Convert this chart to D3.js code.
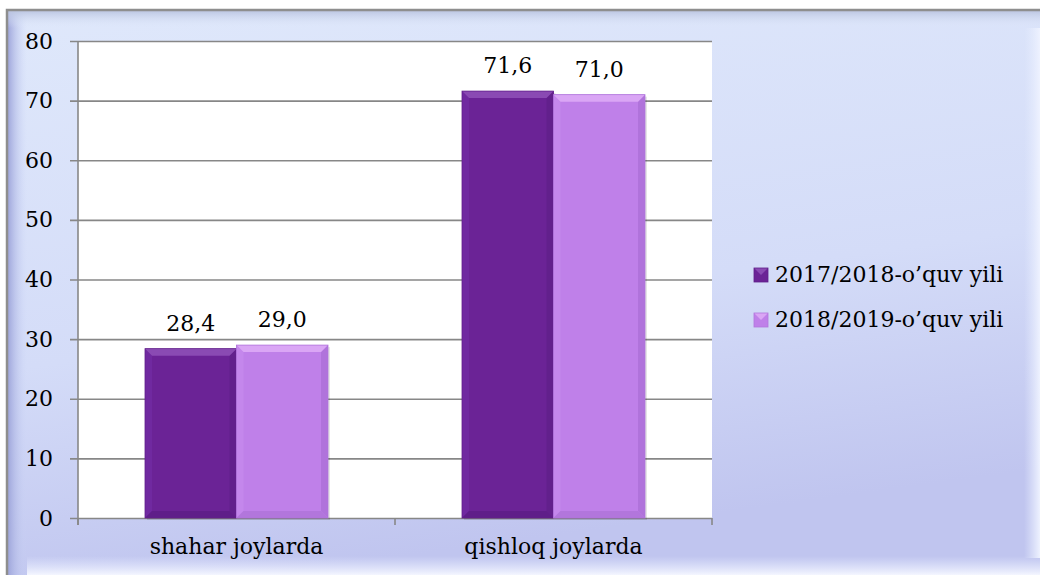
<!DOCTYPE html>
<meta charset="utf-8">
<html>
<script src="https://d3js.org/d3.v7.min.js"></script>
<style>
  body { margin: 0; background: #fff; }
</style>
<body>
<div id="chart"></div>
<script>

// chart values
var categories = ["shahar joylarda", "qishloq joylarda"];
var seriesNames = ["2017/2018-o\u2019quv yili", "2018/2019-o\u2019quv yili"];
var series1 = [28.4, 71.6];
var series2 = [29.0, 71.0];
var yTicks = [0, 10, 20, 30, 40, 50, 60, 70, 80];

var width = 1040,
    height = 575;

var plot = {left: 78, top: 41, right: 712, bottom: 518};
var font = "DejaVu Serif";

var colors = [
  {main: "#6b2396", top: "#8a4ab3", left: "#7029a0", right: "#62208c", bottom: "#5f1e89"},
  {main: "#bf80e9", top: "#daa6f5", left: "#c487ec", right: "#b073db", bottom: "#b276dc"}
];

var svg = d3.select("#chart")
  .append("svg")
    .attr("width", width)
    .attr("height", height);

var defs = svg.append("defs");

// background gradients
var bg = defs.append("linearGradient").attr("id", "bg")
  .attr("x1", "0").attr("y1", "0").attr("x2", "0.25").attr("y2", "1");
bg.append("stop").attr("offset", "0").attr("stop-color", "#dfe8fb");
bg.append("stop").attr("offset", "0.6").attr("stop-color", "#d4dcf8");
bg.append("stop").attr("offset", "1").attr("stop-color", "#c0c5ef");

var leftG = defs.append("linearGradient").attr("id", "leftEdge")
  .attr("x1", "0").attr("y1", "0").attr("x2", "1").attr("y2", "0");
leftG.append("stop").attr("offset", "0").attr("stop-color", "#9aa1d8");
leftG.append("stop").attr("offset", "1").attr("stop-color", "#cdd6f6").attr("stop-opacity", 0);

var topG = defs.append("linearGradient").attr("id", "topEdge")
  .attr("x1", "0").attr("y1", "0").attr("x2", "0").attr("y2", "1");
topG.append("stop").attr("offset", "0").attr("stop-color", "#b9c3df");
topG.append("stop").attr("offset", "1").attr("stop-color", "#dfe8fb").attr("stop-opacity", 0);

var botG = defs.append("linearGradient").attr("id", "botEdge")
  .attr("x1", "0").attr("y1", "0").attr("x2", "0").attr("y2", "1");
botG.append("stop").attr("offset", "0").attr("stop-color", "#e6ebff").attr("stop-opacity", 0);
botG.append("stop").attr("offset", "1").attr("stop-color", "#f4f6ff");

var rightG = defs.append("linearGradient").attr("id", "rightEdge")
  .attr("x1", "0").attr("y1", "0").attr("x2", "1").attr("y2", "0");
rightG.append("stop").attr("offset", "0").attr("stop-color", "#e4ebfd").attr("stop-opacity", 0);
rightG.append("stop").attr("offset", "1").attr("stop-color", "#eef2ff");

// frame
svg.append("rect").attr("x", 7).attr("y", 10).attr("width", width - 7).attr("height", height - 10)
  .attr("fill", "url(#bg)");
svg.append("rect").attr("x", 7).attr("y", 10).attr("width", 20).attr("height", height - 10)
  .attr("fill", "url(#leftEdge)");
svg.append("rect").attr("x", 7).attr("y", 10).attr("width", width - 7).attr("height", 18)
  .attr("fill", "url(#topEdge)");
svg.append("rect").attr("x", 27).attr("y", 556).attr("width", width - 27).attr("height", 19)
  .attr("fill", "url(#botEdge)");
svg.append("rect").attr("x", 1024).attr("y", 28).attr("width", 16).attr("height", 530)
  .attr("fill", "url(#rightEdge)");
svg.append("path")
  .attr("d", "M7,575 V10 H1040")
  .attr("fill", "none")
  .attr("stroke", "#8e8e8e")
  .attr("stroke-width", 2.5);

// scales
var x0 = d3.scaleBand()
  .domain(categories)
  .range([plot.left, plot.right])
  .paddingInner(0)
  .paddingOuter(0);

var x1 = d3.scaleBand()
  .domain([0, 1])
  .range([67, x0.bandwidth() - 67]);

var y = d3.scaleLinear()
  .domain([0, 80])
  .range([plot.bottom, plot.top]);

// plot area
svg.append("rect")
  .attr("x", plot.left).attr("y", plot.top)
  .attr("width", plot.right - plot.left).attr("height", plot.bottom - plot.top)
  .attr("fill", "#ffffff");

// gridlines + y axis
var yAxis = d3.axisLeft(y)
  .tickValues(yTicks)
  .tickSize(-(plot.right - plot.left))
  .tickPadding(25)
  .tickFormat(d3.format("d"));

var gy = svg.append("g")
  .attr("transform", "translate(" + plot.left + ",0)")
  .call(yAxis);
gy.select(".domain").remove();
gy.selectAll(".tick line")
  .attr("x1", -8)
  .attr("stroke", "#878787")
  .attr("stroke-width", 1.6);
gy.selectAll(".tick text")
  .attr("font-family", font)
  .attr("font-size", "22px")
  .attr("fill", "#000");

svg.append("line")
  .attr("x1", plot.left).attr("x2", plot.left)
  .attr("y1", plot.top).attr("y2", plot.bottom + 7)
  .attr("stroke", "#878787").attr("stroke-width", 1.6);

// x axis
var xAxis = d3.axisBottom(x0).tickSize(0).tickPadding(20);
var gx = svg.append("g")
  .attr("transform", "translate(0," + plot.bottom + ")")
  .call(xAxis);
gx.select(".domain").remove();
gx.selectAll(".tick text")
  .attr("font-family", font)
  .attr("font-size", "22px")
  .attr("fill", "#000");

// category boundary ticks
var bounds = categories.map(function(c) { return x0(c); }).concat([plot.right]);
svg.selectAll("line.xtick")
  .data(bounds)
  .enter().append("line")
  .attr("class", "xtick")
  .attr("x1", function(d) { return d; })
  .attr("x2", function(d) { return d; })
  .attr("y1", plot.bottom)
  .attr("y2", plot.bottom + 7)
  .attr("stroke", "#878787").attr("stroke-width", 1.6);

// bars
var rows = [];
categories.forEach(function(c, i) {
  [series1[i], series2[i]].forEach(function(v, s) {
    rows.push({cat: c, s: s, v: v});
  });
});

var bevel = 7;

var bars = svg.selectAll("g.bar")
  .data(rows)
  .enter().append("g")
  .attr("class", "bar");

// drop shadow
bars.append("rect")
  .attr("x", function(d) { return x0(d.cat) + x1(d.s) + 2; })
  .attr("y", function(d) { return y(d.v) + 2; })
  .attr("width", x1.bandwidth())
  .attr("height", function(d) { return plot.bottom - y(d.v); })
  .attr("fill", "#000")
  .attr("opacity", 0.1);

bars.append("rect")
  .attr("x", function(d) { return x0(d.cat) + x1(d.s); })
  .attr("y", function(d) { return y(d.v); })
  .attr("width", x1.bandwidth())
  .attr("height", function(d) { return plot.bottom - y(d.v); })
  .attr("fill", function(d) { return colors[d.s].main; });

function bevelPath(d, side) {
  var xl = x0(d.cat) + x1(d.s), xr = xl + x1.bandwidth();
  var yt = y(d.v), yb = plot.bottom;
  var b = bevel;
  var pts;
  if (side === "top") pts = [[xl, yt], [xr, yt], [xr - b, yt + b], [xl + b, yt + b]];
  if (side === "left") pts = [[xl, yt], [xl + b, yt + b], [xl + b, yb - b], [xl, yb]];
  if (side === "right") pts = [[xr, yt], [xr - b, yt + b], [xr - b, yb - b], [xr, yb]];
  if (side === "bottom") pts = [[xl, yb], [xl + b, yb - b], [xr - b, yb - b], [xr, yb]];
  return "M" + pts.map(function(p) { return p.join(","); }).join("L") + "Z";
}

["left", "right", "bottom", "top"].forEach(function(side) {
  bars.append("path")
    .attr("d", function(d) { return bevelPath(d, side); })
    .attr("fill", function(d) { return colors[d.s][side]; });
});

bars.append("rect")
  .attr("x", function(d) { return x0(d.cat) + x1(d.s); })
  .attr("y", function(d) { return y(d.v); })
  .attr("width", x1.bandwidth())
  .attr("height", function(d) { return plot.bottom - y(d.v); })
  .attr("fill", "none")
  .attr("stroke", function(d) { return colors[d.s].right; })
  .attr("stroke-width", 0.8);

// value labels
var fmt = function(v) { return v.toFixed(1).replace(".", ","); };
bars.append("text")
  .attr("x", function(d) { return x0(d.cat) + x1(d.s) + x1.bandwidth() / 2; })
  .attr("y", function(d) { return y(d.v) - 18; })
  .attr("text-anchor", "middle")
  .attr("font-family", font)
  .attr("font-size", "22px")
  .attr("fill", "#000")
  .text(function(d) { return fmt(d.v); });

// legend
var legend = svg.selectAll(".legend")
  .data(seriesNames)
  .enter().append("g")
  .attr("class", "legend")
  .attr("transform", function(d, i) { return "translate(754," + (268 + i * 45) + ")"; });

legend.append("rect")
  .attr("width", 14).attr("height", 14)
  .attr("fill", function(d, i) { return colors[i].main; });
legend.append("path")
  .attr("d", "M0,0 L14,0 L7,7 Z")
  .attr("fill", function(d, i) { return colors[i].top; });
legend.append("rect")
  .attr("width", 14).attr("height", 14)
  .attr("fill", "none")
  .attr("stroke", function(d, i) { return colors[i].bottom; })
  .attr("stroke-width", 0.8);

legend.append("text")
  .attr("x", 21)
  .attr("y", 14)
  .attr("font-family", font)
  .attr("font-size", "22px")
  .attr("fill", "#000")
  .text(function(d) { return d; });

</script>
</body>
</html>
